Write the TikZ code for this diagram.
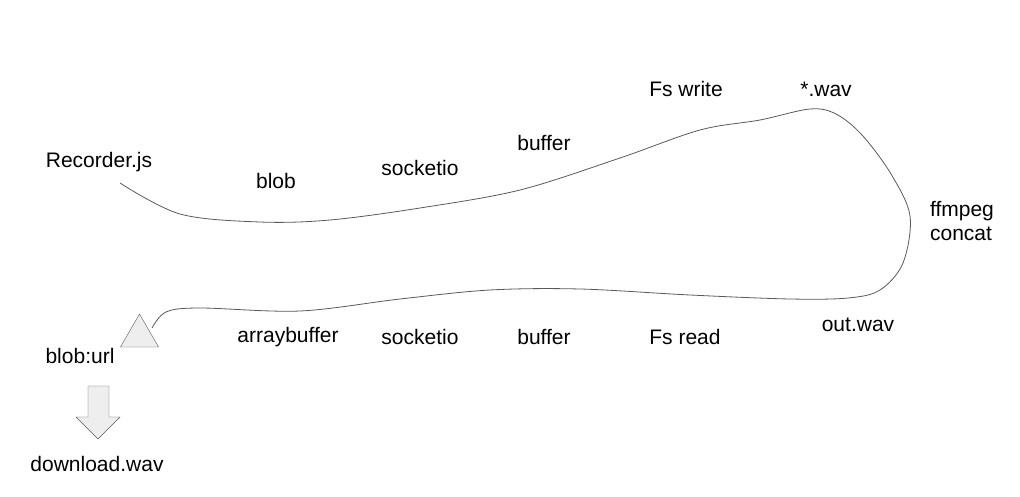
\documentclass[tikz,border=0pt]{standalone}
\usepackage{fontspec}
\setmainfont{Liberation Sans}
\usetikzlibrary{shapes.geometric}
\definecolor{linegray}{HTML}{595959}
\definecolor{fillgray}{HTML}{EEEEEE}
\begin{document}
\begin{tikzpicture}[x=1pt,y=-1pt,
    lbl/.style={font=\fontsize{21}{24.5}\selectfont, inner sep=0pt, align=left}]
            \useasboundingbox (0,0) rectangle (1020,497);
            \node [lbl] (rec)   at (99,162)  {Recorder.js};
            \node [lbl] (blob)  at (276,181) {blob};
            \node [lbl] (sio1)  at (420,168) {socketio};
            \node [lbl] (buf1)  at (544,143) {buffer};
            \node [lbl] (fsw)   at (686,89)  {Fs write};
            \node [lbl] (wav)   at (826,89)  {*.wav};
            \node [lbl] (ffm)   at (962,221) {ffmpeg\\concat};
            \node [lbl] (out)   at (858,325) {out.wav};
            \node [lbl] (fsr)   at (685,337) {Fs read};
            \node [lbl] (buf2)  at (544,337) {buffer};
            \node [lbl] (sio2)  at (420,337) {socketio};
            \node [lbl] (abuf)  at (288,337) {arraybuffer};
            \node [lbl] (url)   at (80,356)  {blob:url};
            \node [lbl] (dl)    at (97,464)  {download.wav};
            \node [regular polygon, regular polygon sides=3, minimum size=44pt, inner sep=0pt,
                   draw=linegray, fill=fillgray] (tri) at (139.5,336) {};
            \coordinate (start) at (120,183);
            \draw[linegray, line width=0.8pt] plot[smooth, tension=0.55] coordinates {
                (start) (180,214) (260,222) (330,220) (420,208) (520,190) (620,158)
                (700,130) (760,120) (810,109) (836,114) (862,135) (891,174) (910,216)
                (903,263) (880,290) (848,298) (790,299) (690,295) (580,289) (490,290)
                (400,299) (300,311) (200,308) (166,312) (152,328)};
            \draw[linegray, fill=fillgray] (88,386) -- (109,386) -- (109,417) -- (120,417)
                -- (98,439) -- (76,417) -- (88,417) -- cycle;
        \end{tikzpicture}
\end{document}
